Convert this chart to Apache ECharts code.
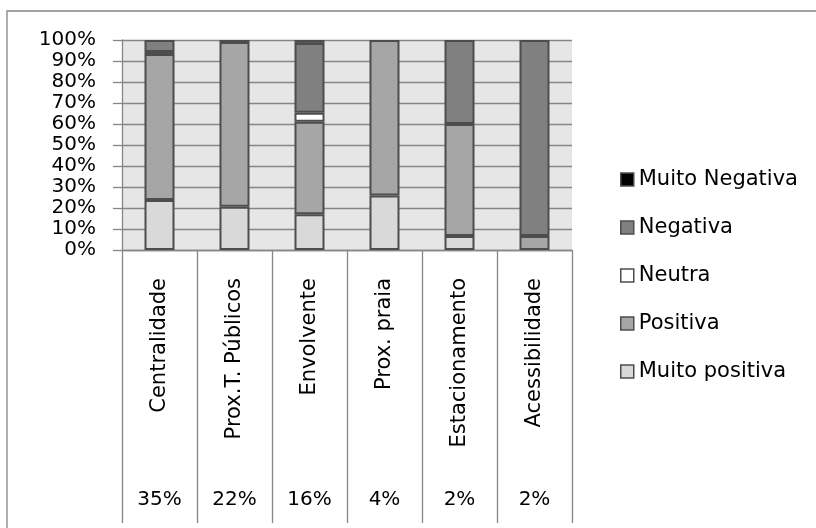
<!DOCTYPE html>
<html>
<head>
<meta charset="utf-8">
<script src="https://cdn.jsdelivr.net/npm/echarts@6/dist/echarts.min.js"></script>
<style>
  html, body { margin: 0; padding: 0; background: #fff; }
  #chart { width: 816px; height: 528px; }
</style>
</head>
<body>
<div id="chart"></div>
<script>
// Location factors and their share of mentions
const categories = ['Centralidade', 'Prox.T. Públicos', 'Envolvente', 'Prox. praia', 'Estacionamento', 'Acessibilidade'];
const shares = ['35%', '22%', '16%', '4%', '2%', '2%'];

// Opinion breakdown per factor (percent of answers); null = no answers
const muitoPositiva = [23.8, 20.6, 17.0, 25.9, 6.7, null];
const positiva      = [69.5, 78.4, 44.1, 74.1, 53.3, 6.7];
const neutra        = [1.0, null, 4.3, null, null, null];
const negativa      = [5.7, 1.0, 33.2, null, 40.0, 93.3];
const muitoNegativa = [null, null, 1.4, null, null, null];

const yTicks = [0, 10, 20, 30, 40, 50, 60, 70, 80, 90, 100];

const FONT = 'DejaVu Sans';
const GRID_GREY = '#868686';
const EDGE = '#4d4d4d';

function barSeries(name, values, color) {
  return {
    name: name,
    type: 'bar',
    stack: 'opiniao',
    barWidth: 30,
    data: values,
    itemStyle: { color: color, borderColor: EDGE, borderWidth: 2 },
    emphasis: { disabled: true }
  };
}

const chart = echarts.init(document.getElementById('chart'), null, { renderer: 'canvas' });
chart.setOption({
  animation: false,
  backgroundColor: '#ffffff',
  textStyle: { fontFamily: FONT, color: '#000' },
  grid: {
    left: 122, right: 244, top: 40, bottom: 278,
    show: true, backgroundColor: '#e6e6e6', borderWidth: 0
  },
  legend: {
    orient: 'vertical',
    left: 615,
    top: 164,
    itemWidth: 13,
    itemHeight: 13,
    itemGap: 27,
    icon: 'rect',
    data: ['Muito Negativa', 'Negativa', 'Neutra', 'Positiva', 'Muito positiva'],
    itemStyle: { borderWidth: 1.5 },
    textStyle: { fontFamily: FONT, fontSize: 21, color: '#000', lineHeight: 20 }
  },
  xAxis: [
    {
      type: 'category',
      data: categories,
      axisLine: { show: true, lineStyle: { color: GRID_GREY, width: 1.3 } },
      axisTick: { show: true, length: 273, lineStyle: { color: GRID_GREY, width: 1.3 } },
      axisLabel: {
        rotate: 90, margin: 28, interval: 0,
        fontFamily: FONT, fontSize: 21, color: '#000'
      },
      splitLine: { show: false }
    },
    {
      type: 'category',
      position: 'bottom',
      offset: 240,
      data: shares,
      axisLine: { show: false },
      axisTick: { show: false },
      axisLabel: { margin: 0, interval: 0, fontFamily: FONT, fontSize: 20, color: '#000' },
      splitLine: { show: false }
    }
  ],
  yAxis: {
    type: 'value',
    min: yTicks[0],
    max: yTicks[yTicks.length - 1],
    interval: 10,
    axisLine: { show: true, lineStyle: { color: GRID_GREY, width: 1.3 } },
    axisTick: { show: true, length: 9, lineStyle: { color: GRID_GREY, width: 1.3 } },
    axisLabel: { margin: 26, formatter: '{value}%', fontFamily: FONT, fontSize: 20, color: '#000' },
    splitLine: { show: true, lineStyle: { color: GRID_GREY, width: 1.3 } }
  },
  series: [
    barSeries('Muito positiva', muitoPositiva, '#d9d9d9'),
    barSeries('Positiva', positiva, '#a6a6a6'),
    barSeries('Neutra', neutra, '#ffffff'),
    barSeries('Negativa', negativa, '#808080'),
    barSeries('Muito Negativa', muitoNegativa, '#000000')
  ],
  graphic: [
    {
      type: 'rect',
      silent: true,
      shape: { x: 7, y: 11, width: 1000, height: 1000 },
      style: { fill: 'none', stroke: GRID_GREY, lineWidth: 1.3 }
    }
  ]
});
</script>
</body>
</html>
